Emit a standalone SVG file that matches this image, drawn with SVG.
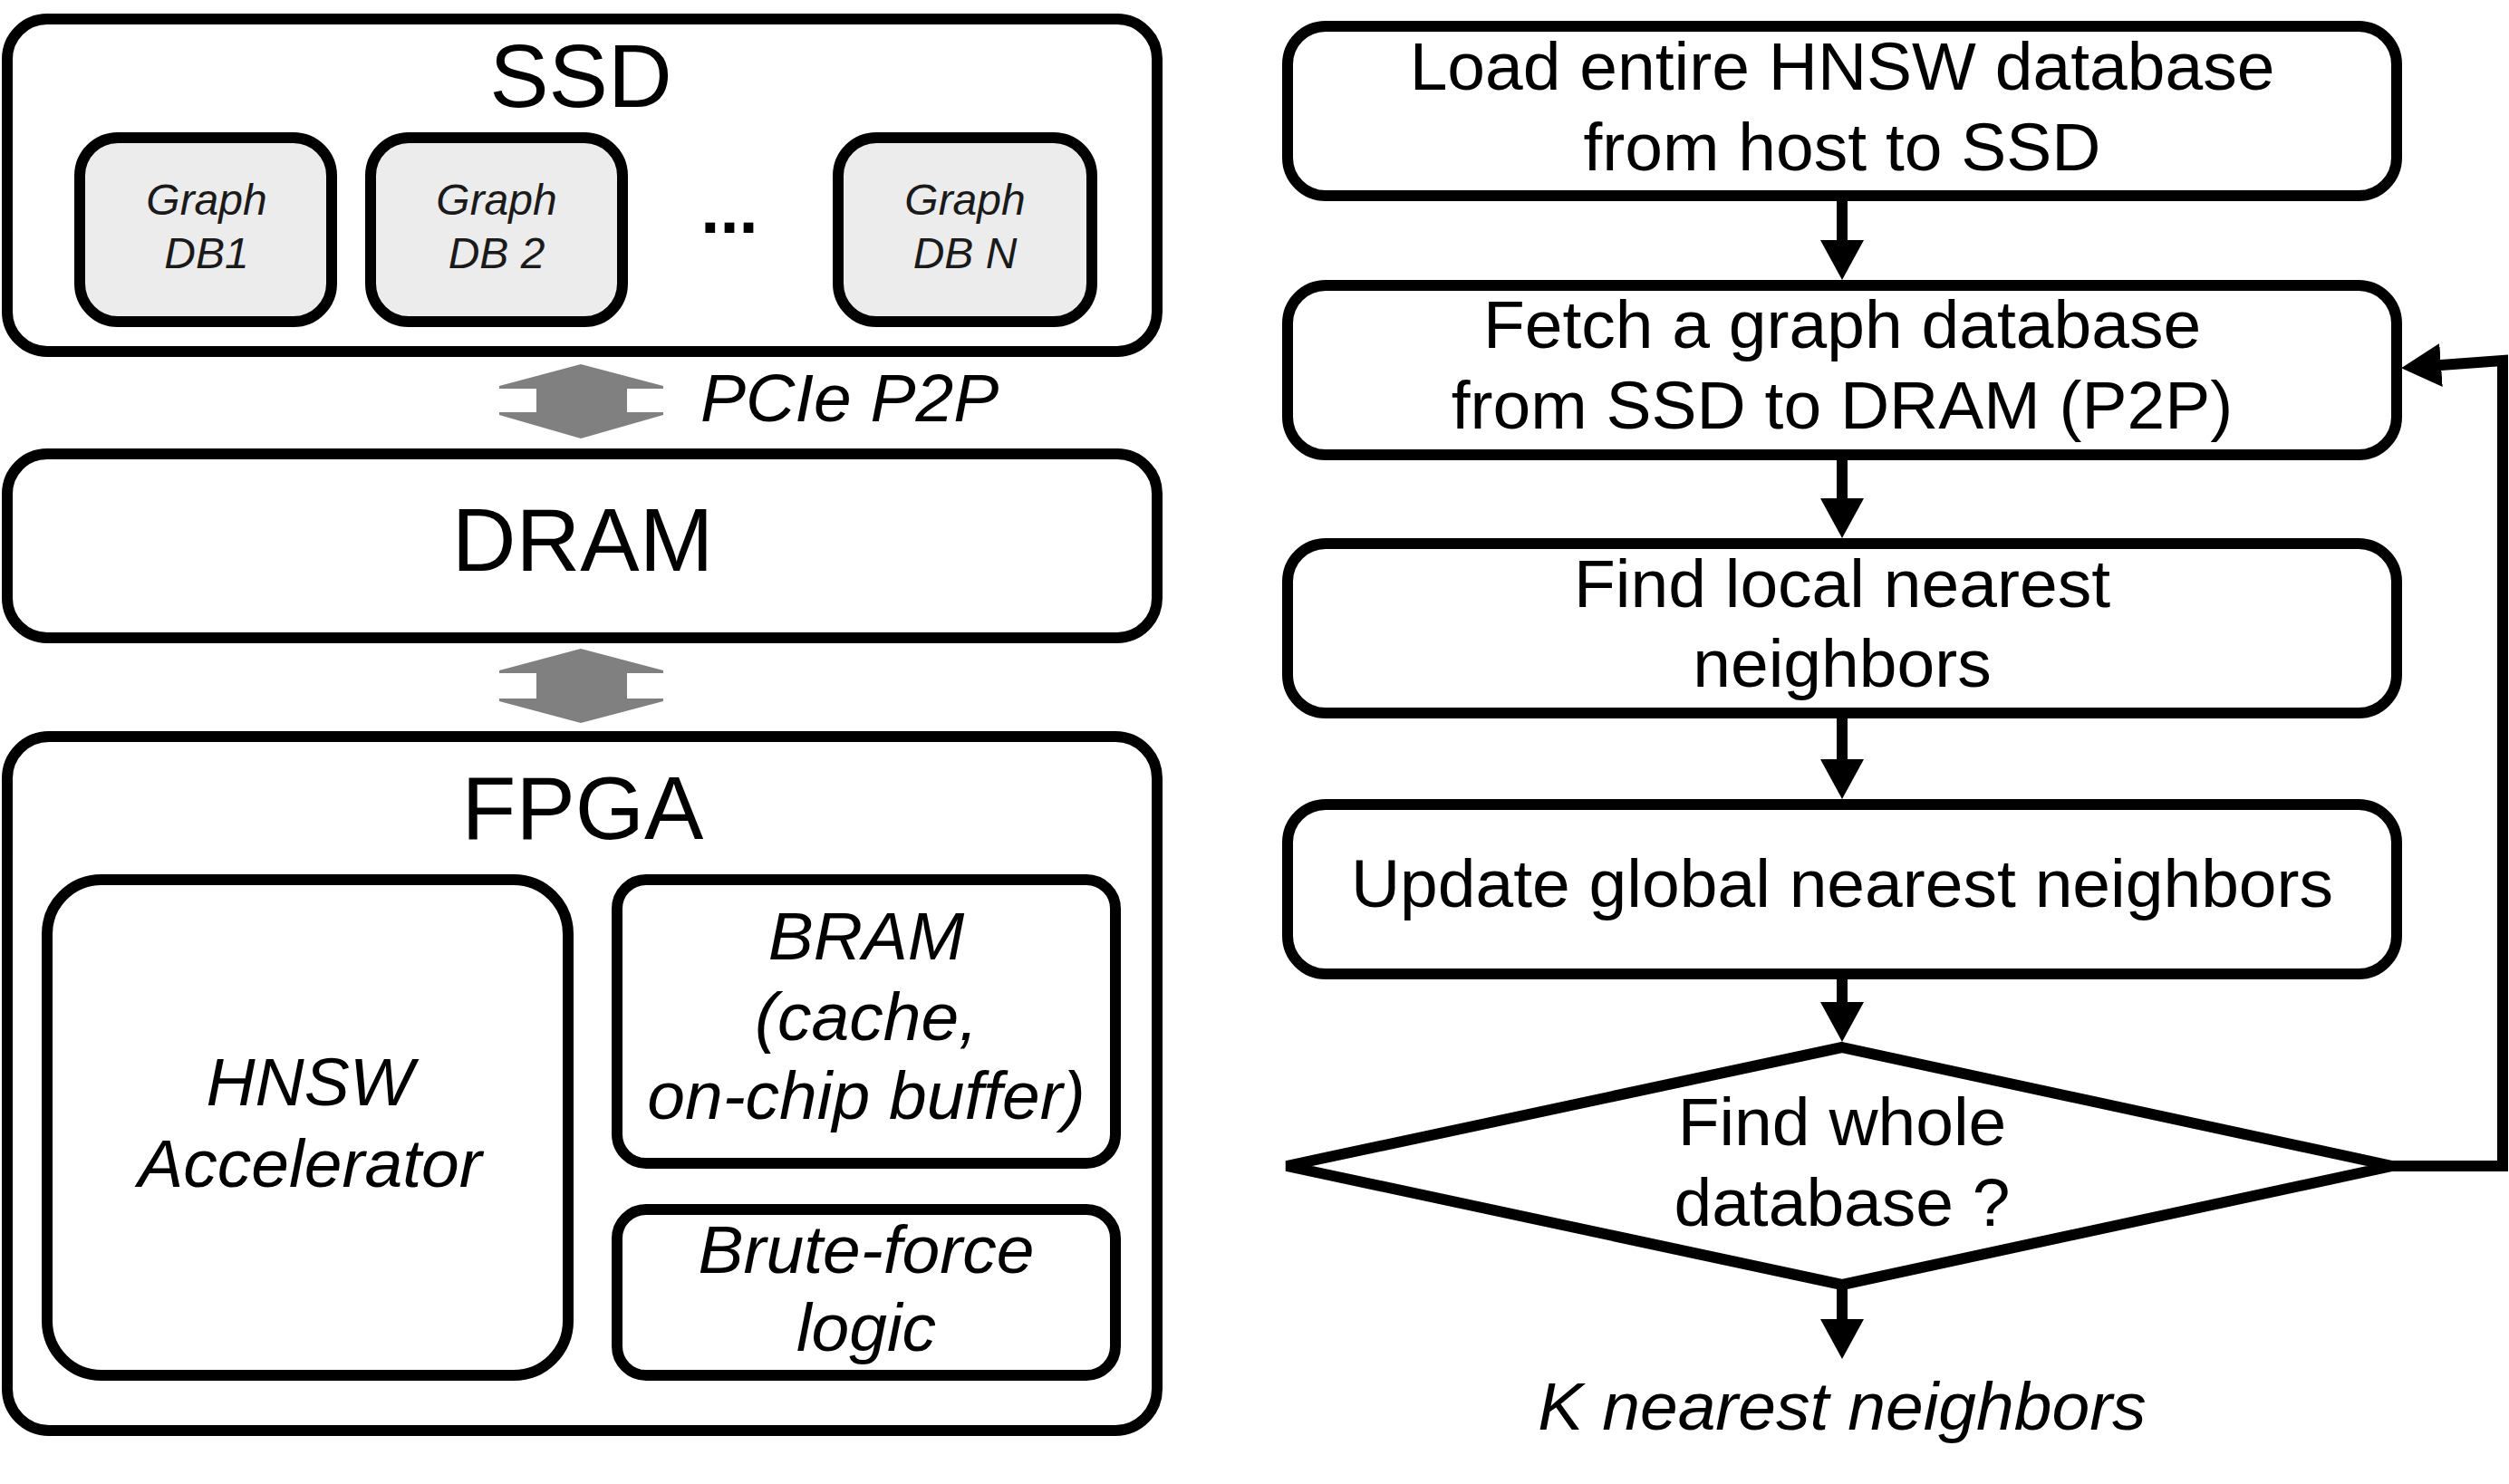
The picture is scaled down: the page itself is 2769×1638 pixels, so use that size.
<svg xmlns="http://www.w3.org/2000/svg" width="2769" height="1638" viewBox="0 0 2769 1638">
<style>
  .box { fill: #ffffff; stroke: #000000; stroke-width: 12; }
  .db { fill: #ececec; stroke: #000000; stroke-width: 12; }
  .t { font-family: "Liberation Sans", Arial, sans-serif; fill: #000000; text-anchor: middle; }
  .big { font-size: 98px; }
  .mid { font-size: 75px; }
  .sm { font-size: 48px; font-style: italic; fill: #1a1a1a; }
  .it { font-style: italic; }
  .conn { fill: none; stroke: #000000; stroke-width: 12; }
  .gray { fill: #808080; }
</style>
<defs>
  <marker id="ah" viewBox="0 0 44 48" refX="14" refY="24" markerWidth="44" markerHeight="48" markerUnits="userSpaceOnUse" orient="auto">
    <path d="M0,0 L44,24 L0,48 z" fill="#000000"/>
  </marker>
</defs>
<rect width="2769" height="1638" fill="#ffffff"/>

<!-- Left: hardware -->
<g id="ssd">
  <rect class="box" x="8" y="21" width="1269" height="367" rx="44"/>
  <text class="t big" x="641" y="118">SSD</text>
</g>
<g id="graphdb1">
  <rect class="db" x="88" y="152" width="278" height="203" rx="42"/>
  <text class="t sm" x="228" y="237">Graph</text>
  <text class="t sm" x="228" y="296">DB1</text>
</g>
<g id="graphdb2">
  <rect class="db" x="409" y="152" width="278" height="203" rx="42"/>
  <text class="t sm" x="548" y="237">Graph</text>
  <text class="t sm" x="548" y="296">DB 2</text>
</g>
<g id="ellipsis">
  <text class="t" x="805" y="257" style="font-size:76px;font-weight:bold">...</text>
</g>
<g id="graphdbn">
  <rect class="db" x="925" y="152" width="280" height="203" rx="42"/>
  <text class="t sm" x="1065" y="237">Graph</text>
  <text class="t sm" x="1065" y="296">DB N</text>
</g>
<g id="pcie-arrow">
  <polygon class="gray" points="641,402 732,426 732,429 692,429 692,455 732,455 732,458 641,484 551,458 551,455 592,455 592,429 551,429 551,426"/>
  <text class="t mid it" x="773" y="465" style="text-anchor:start">PCIe P2P</text>
</g>
<g id="dram">
  <rect class="box" x="8" y="501" width="1269" height="203" rx="44"/>
  <text class="t big" x="643" y="630">DRAM</text>
</g>
<g id="dram-fpga-arrow">
  <polygon class="gray" points="641,716 732,740 732,743 692,743 692,771 732,771 732,774 641,798 551,774 551,771 592,771 592,743 551,743 551,740"/>
</g>
<g id="fpga">
  <rect class="box" x="8" y="813" width="1269" height="766" rx="46"/>
  <text class="t big" x="643" y="926">FPGA</text>
</g>
<g id="hnsw">
  <rect class="box" x="52" y="971" width="575" height="547" rx="60"/>
  <text class="t mid it" x="342" y="1220">HNSW</text>
  <text class="t mid it" x="342" y="1310">Accelerator</text>
</g>
<g id="bram">
  <rect class="box" x="681" y="971" width="550" height="313" rx="32"/>
  <text class="t mid it" x="956" y="1059">BRAM</text>
  <text class="t mid it" x="956" y="1148">(cache,</text>
  <text class="t mid it" x="956" y="1235">on-chip buffer)</text>
</g>
<g id="bruteforce">
  <rect class="box" x="681" y="1335" width="550" height="183" rx="32"/>
  <text class="t mid it" x="956" y="1405">Brute-force</text>
  <text class="t mid it" x="956" y="1491">logic</text>
</g>

<!-- Right: flowchart -->
<g id="step1">
  <rect class="box" x="1421" y="29" width="1224" height="187" rx="42"/>
  <text class="t mid" x="2033" y="99">Load entire HNSW database</text>
  <text class="t mid" x="2033" y="188">from host to SSD</text>
</g>
<g id="step2">
  <rect class="box" x="1421" y="315" width="1224" height="187" rx="42"/>
  <text class="t mid" x="2033" y="384">Fetch a graph database</text>
  <text class="t mid" x="2033" y="473">from SSD to DRAM (P2P)</text>
</g>
<g id="step3">
  <rect class="box" x="1421" y="600" width="1224" height="187" rx="42"/>
  <text class="t mid" x="2033" y="670">Find local nearest</text>
  <text class="t mid" x="2033" y="758">neighbors</text>
</g>
<g id="step4">
  <rect class="box" x="1421" y="888" width="1224" height="187" rx="42"/>
  <text class="t mid" x="2033" y="1001">Update global nearest neighbors</text>
</g>
<g id="decision">
  <polygon class="box" points="2033,1156 2640,1287 2033,1418 1420,1287"/>
  <text class="t mid" x="2033" y="1264">Find whole</text>
  <text class="t mid" x="2033" y="1353">database ?</text>
</g>
<g id="result">
  <text class="t mid it" x="2033" y="1578">K nearest neighbors</text>
</g>

<g id="connectors">
  <line class="conn" x1="2033" y1="220" x2="2033" y2="279" marker-end="url(#ah)"/>
  <line class="conn" x1="2033" y1="506" x2="2033" y2="564" marker-end="url(#ah)"/>
  <line class="conn" x1="2033" y1="791" x2="2033" y2="852" marker-end="url(#ah)"/>
  <line class="conn" x1="2033" y1="1079" x2="2033" y2="1120" marker-end="url(#ah)"/>
  <line class="conn" x1="2033" y1="1420" x2="2033" y2="1470" marker-end="url(#ah)"/>
  <polyline class="conn" points="2640,1287 2762,1287 2762,398 2680,404" marker-end="url(#ah)"/>
</g>
</svg>
